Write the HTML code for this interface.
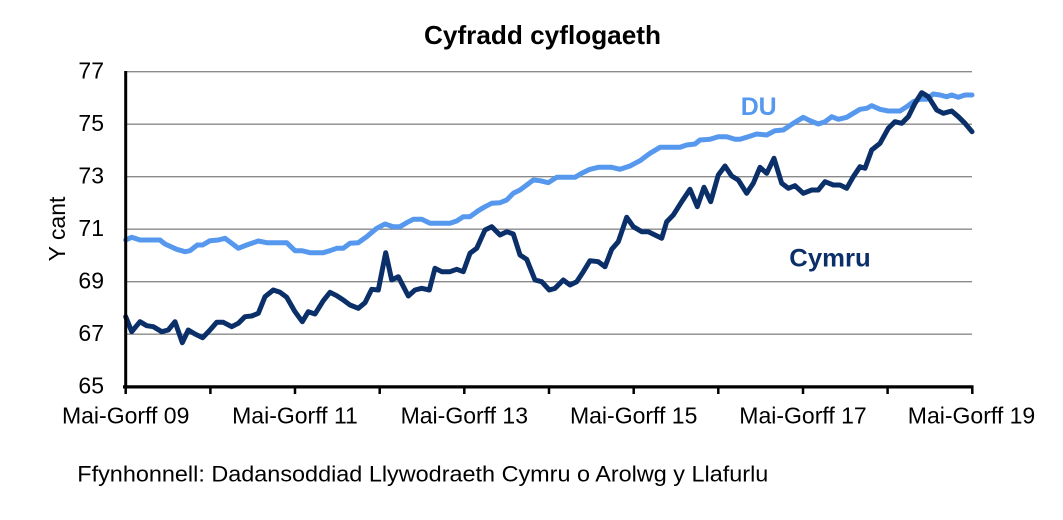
<!DOCTYPE html>
<html>
<head>
<meta charset="utf-8">
<style>
html,body{margin:0;padding:0;background:#fff;}
svg{display:block;}
text{font-family:"Liberation Sans",Arial,sans-serif;}
</style>
</head>
<body>
<svg width="1063" height="520" viewBox="0 0 1063 520" xmlns="http://www.w3.org/2000/svg">
  <rect width="1063" height="520" fill="#fff"/>
  <!-- title -->
  <text x="542.5" y="44" font-size="26" font-weight="bold" text-anchor="middle" textLength="237" lengthAdjust="spacingAndGlyphs" fill="#000">Cyfradd cyflogaeth</text>

  <!-- gridlines -->
  <g stroke="#8a8a8a" stroke-width="1.3">
    <line x1="126" y1="71.7" x2="972" y2="71.7"/>
    <line x1="126" y1="124.2" x2="972" y2="124.2"/>
    <line x1="126" y1="176.7" x2="972" y2="176.7"/>
    <line x1="126" y1="229.2" x2="972" y2="229.2"/>
    <line x1="126" y1="281.7" x2="972" y2="281.7"/>
    <line x1="126" y1="334.2" x2="972" y2="334.2"/>
  </g>

  <!-- y tick labels -->
  <g font-size="23" text-anchor="end" fill="#000">
    <text x="104" y="78.3">77</text>
    <text x="104" y="130.8">75</text>
    <text x="104" y="183.3">73</text>
    <text x="104" y="235.8">71</text>
    <text x="104" y="288.3">69</text>
    <text x="104" y="340.8">67</text>
    <text x="104" y="393.3">65</text>
  </g>

  <!-- y axis title -->
  <text transform="translate(65,229) rotate(-90)" font-size="23" text-anchor="middle" fill="#000">Y cant</text>

  <!-- series -->
  <polyline fill="none" stroke="#5598EE" stroke-width="5" stroke-linejoin="round" stroke-linecap="round"
    points="125.7,240 131.7,237.3 140,240 160,240 165,244 176.7,249.3 185,251.7 190,250.7 197.3,245 202.7,245 210,240.7 218.3,240 225,238.3 231.7,243.3 238.3,248.3 246.7,245 258.3,241 266.7,242.7 286.7,242.7 295,250.7 301.7,250.7 310,252.7 323.3,252.7 330,250.7 336.7,248.3 343.3,248.3 350,243.3 358.3,242.7 366.7,236.7 376.7,228.3 385,224 393.3,226.7 400,226.7 406.7,222.7 413.3,219.3 421.7,219.3 430,223.3 450,223.3 456.7,221 463.3,216.7 470,216.7 478.3,210.7 485,206.7 491.7,203.3 500,202.7 506.7,200 513.3,193.3 520,190 526.7,185 533.3,180 540,180.7 548.3,182.7 556.7,177.3 575,177.3 581.7,173.3 590,169.3 598.3,167.3 611.7,167.3 620,169.3 630,166 640,160.7 650,153.3 660,147.3 680,147.3 686.7,145 695,144 700,140 710,139.3 718.3,136.7 726.7,136.7 735,139.3 740,139.3 748.3,136.7 756.7,134 766.7,135 775,130.7 783.3,130 793.3,123.3 803.3,117.3 810,120.7 818.3,124 825,121.7 831.7,116.7 838.3,119.3 846.7,117.3 853.3,113.3 860,109.3 866.7,108.3 871.7,105.7 880,109.3 888.3,111 900,111 906.7,106.7 913.3,101.7 920,99.3 926.7,99.3 933.3,94 940,95 946.7,96.7 951.7,95 958.3,97.3 965,95 972,95"/>
  <polyline fill="none" stroke="#0B2F69" stroke-width="5" stroke-linejoin="round" stroke-linecap="round"
    points="125.7,316.7 131.7,331.7 140,321.7 146.7,325.7 153.3,326.7 161.7,331.7 168.3,330 175,321.7 182.3,342.7 188.3,330 195,334 202.7,337.7 210,330 216.7,322.3 223.3,322.3 231.7,326.7 238.3,323.3 245,316.7 251.7,316 258.3,313.3 265,296.7 273.3,290 280,292.3 286.7,297.3 295,311.7 302.3,321.7 308.3,311.7 315,314 323.3,300.7 330,292.3 336.7,295.7 343.3,300 350,305 358.3,308.3 365,302.7 371.7,289.3 378.3,290 385.7,252.7 391.7,280 398.3,276.7 408.3,296 415,290 421.7,288.3 429.3,290 435,268.3 441.7,271.7 450,271.7 456.7,269.3 463.3,271.7 470,253.3 476.7,248.3 485,230 491.7,226.7 500,235 506.7,231.7 513.3,234 520,255 526.7,259.3 535,280 541.7,281.7 549.3,290 555,288.3 563.3,280 570,285 576.7,281.7 583.3,271.7 590,260.7 598.3,261.7 605,266.7 611.7,249.3 618.3,241.7 626.7,217.3 633.3,226.7 641.7,231.7 648.3,231.7 661.7,238.3 666.7,221.7 673.3,215 681.7,201.7 690,189.3 697.3,206.7 704,187.3 710.7,201.7 718.3,175 725,166 731.7,176 738.3,180 746.7,193.3 753.3,183.3 760,167.3 766.7,173.3 774,158.3 781.7,183.3 788.3,188.3 795,185.7 803.3,193.3 811.7,190 818.3,190 825,181.7 833.3,185 840,185 846.7,188.3 853.3,176.7 860,166.7 865,168.3 871.7,150 880,143.3 888.3,128.3 895,121.7 901.7,123.3 908.3,116.7 915,103.3 921.7,92.7 928.3,96.7 936.7,110 943.3,113.3 951.7,111 958.3,116.7 965,123.3 972,131.7"/>

  <!-- axes -->
  <line x1="125.7" y1="71" x2="125.7" y2="388.5" stroke="#000" stroke-width="3"/>
  <line x1="123" y1="386.9" x2="973.5" y2="386.9" stroke="#000" stroke-width="3.2"/>
  <g stroke="#000" stroke-width="2.5">
    <line x1="125.7" y1="386" x2="125.7" y2="394"/>
    <line x1="210.4" y1="386" x2="210.4" y2="394"/>
    <line x1="295.0" y1="386" x2="295.0" y2="394"/>
    <line x1="379.7" y1="386" x2="379.7" y2="394"/>
    <line x1="464.3" y1="386" x2="464.3" y2="394"/>
    <line x1="549.0" y1="386" x2="549.0" y2="394"/>
    <line x1="633.7" y1="386" x2="633.7" y2="394"/>
    <line x1="718.3" y1="386" x2="718.3" y2="394"/>
    <line x1="803.0" y1="386" x2="803.0" y2="394"/>
    <line x1="887.6" y1="386" x2="887.6" y2="394"/>
    <line x1="972.3" y1="386" x2="972.3" y2="394"/>
  </g>

  <!-- x tick labels -->
  <g font-size="23" text-anchor="middle" fill="#000">
    <text x="125.7" y="423.3">Mai-Gorff 09</text>
    <text x="295.0" y="423.3">Mai-Gorff 11</text>
    <text x="464.3" y="423.3">Mai-Gorff 13</text>
    <text x="633.7" y="423.3">Mai-Gorff 15</text>
    <text x="803.0" y="423.3">Mai-Gorff 17</text>
    <text x="971.5" y="423.3">Mai-Gorff 19</text>
  </g>

  <!-- series labels -->
  <text x="740.7" y="115" font-size="25" font-weight="bold" fill="#5598EE" textLength="36" lengthAdjust="spacingAndGlyphs">DU</text>
  <text x="789.3" y="266.7" font-size="25" font-weight="bold" fill="#0B2F69" textLength="81.4" lengthAdjust="spacingAndGlyphs">Cymru</text>

  <!-- source -->
  <text x="77.3" y="481.7" font-size="22" fill="#000" textLength="691" lengthAdjust="spacingAndGlyphs">Ffynhonnell: Dadansoddiad Llywodraeth Cymru o Arolwg y Llafurlu</text>
</svg>
</body>
</html>
